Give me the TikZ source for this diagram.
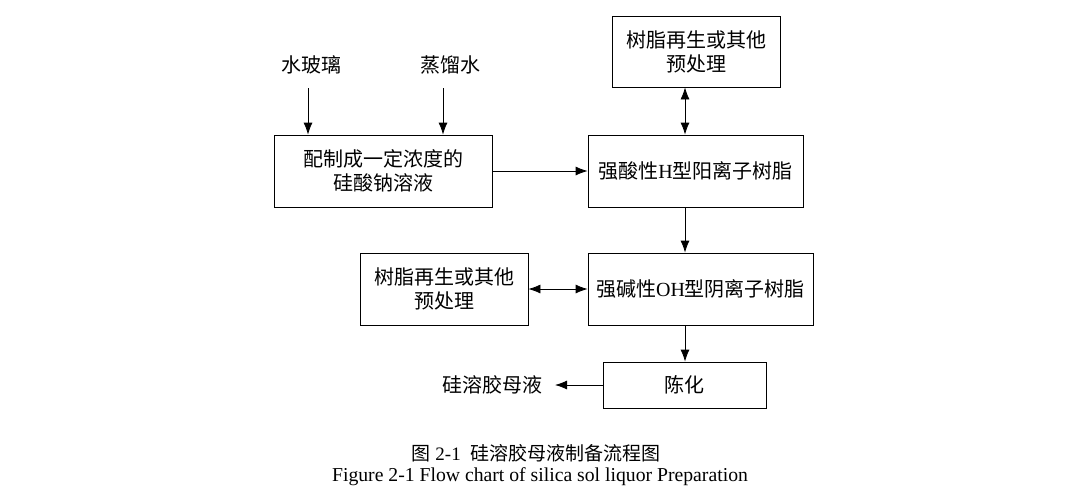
\documentclass[tikz,border=0pt]{standalone}
\usepackage{fontspec}
\setmainfont{Liberation Serif}
\newfontfamily\cjk{Noto Sans CJK SC}
\usetikzlibrary{arrows.meta}
\tikzset{
  box/.style={draw, line width=0.8pt, inner sep=0pt, align=center,
    font=\fontsize{20}{24}\selectfont},
  lbl/.style={inner sep=0pt, font=\fontsize{20}{24}\selectfont\cjk},
  arr/.style={line width=0.8pt, -{Latex[length=12pt,width=9pt]}},
  darr/.style={line width=0.8pt, {Latex[length=12pt,width=9pt]}-{Latex[length=12pt,width=9pt]}},
}
\begin{document}
\begin{tikzpicture}[x=1pt,y=-1pt]
\useasboundingbox (0,0) rectangle (1075,499);
% inputs
\node[lbl] (glass) at (311,65) {水玻璃};
\node[lbl] (water) at (450,65) {蒸馏水};
\coordinate (gin) at (308,88);
\coordinate (win) at (443,88);
% boxes
\node[box, minimum width=218pt, minimum height=72pt] (A) at (383,171)
  {{\cjk 配制成一定浓度的}\\{\cjk 硅酸钠溶液}};
\node[box, minimum width=215pt, minimum height=72pt] (B) at (695.5,171)
  {{\cjk 强酸性}H{\cjk 型阳离子树脂}};
\node[box, minimum width=168pt, minimum height=71pt] (T) at (696,51.5)
  {{\cjk 树脂再生或其他}\\{\cjk 预处理}};
\node[box, minimum width=225pt, minimum height=72pt] (D) at (700.5,289)
  {{\cjk 强碱性}OH{\cjk 型阴离子树脂}};
\node[box, minimum width=168pt, minimum height=72pt] (C) at (444,289)
  {{\cjk 树脂再生或其他}\\{\cjk 预处理}};
\node[box, minimum width=163pt, minimum height=46pt] (E) at (684.5,385)
  {{\cjk 陈化}};
\node[lbl] (P) at (492.5,385) {硅溶胶母液};
\coordinate (pend) at (555,385);
\coordinate (ax) at (685,0);
% connectors
\draw[arr] (gin) -- (gin |- A.north);
\draw[arr] (win) -- (win |- A.north);
\draw[arr] (A.east) -- (B.west);
\draw[darr] (T.south -| ax) -- (B.north -| ax);
\draw[arr] (B.south -| ax) -- (D.north -| ax);
\draw[darr] (C.east) -- (D.west);
\draw[arr] (D.south -| ax) -- (E.north -| ax);
\draw[arr] (E.west) -- (pend);
% caption
\node[inner sep=0pt, font=\fontsize{19}{22}\selectfont] (cap1) at (536,453)
  {{\cjk 图} 2-1\hspace{0.5em}{\cjk 硅溶胶母液制备流程图}};
\node[inner sep=0pt, font=\fontsize{19.7}{22}\selectfont] (cap2) at (540,477)
  {Figure 2-1 Flow chart of silica sol liquor Preparation};
\end{tikzpicture}
\end{document}
